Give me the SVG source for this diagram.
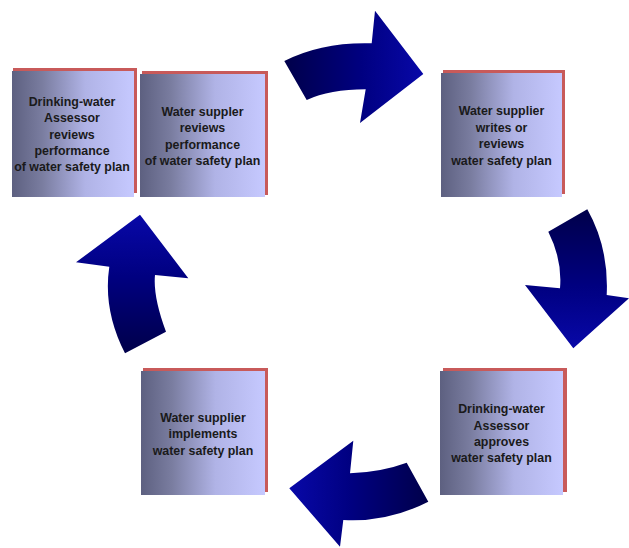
<svg xmlns="http://www.w3.org/2000/svg" width="629" height="548" viewBox="0 0 629 548">
<defs>
<linearGradient id="boxg" x1="0" y1="0" x2="1" y2="0">
<stop offset="0" stop-color="#5d6080"/>
<stop offset="0.25" stop-color="#7a7da0"/>
<stop offset="0.6" stop-color="#b0b3e6"/>
<stop offset="1" stop-color="#c6c9ff"/>
</linearGradient>
<linearGradient id="arrR" x1="0" y1="0" x2="1" y2="0">
<stop offset="0" stop-color="#00004a"/>
<stop offset="0.55" stop-color="#000080"/>
<stop offset="1" stop-color="#0808a8"/>
</linearGradient>
<linearGradient id="arrD" x1="0" y1="0" x2="0" y2="1">
<stop offset="0" stop-color="#00004a"/>
<stop offset="0.55" stop-color="#000080"/>
<stop offset="1" stop-color="#0808a8"/>
</linearGradient>
<linearGradient id="arrL" x1="1" y1="0" x2="0" y2="0">
<stop offset="0" stop-color="#00004a"/>
<stop offset="0.55" stop-color="#000080"/>
<stop offset="1" stop-color="#0808a8"/>
</linearGradient>
<linearGradient id="arrU" x1="0" y1="1" x2="0" y2="0">
<stop offset="0" stop-color="#00004a"/>
<stop offset="0.55" stop-color="#000080"/>
<stop offset="1" stop-color="#0808a8"/>
</linearGradient>
</defs>
<style>
.sh{fill:#c85a5a}
.bx{fill:url(#boxg)}
.t{font-family:"Liberation Sans",Arial,sans-serif;font-weight:bold;font-size:12.4px;fill:#1a1a1a;text-anchor:middle}
</style>
<rect width="629" height="548" fill="#ffffff"/>
<g id="connectors">
<path id="arrow-top" fill="url(#arrR)" d="M284.3,61 Q322,41.8 371.7,43.3 L375,10.7 L423.3,74 L360,123 L365.7,89.3 Q329.8,89.35 306.7,100 Z"/>
<path id="arrow-right" fill="url(#arrD)" d="M548.3,231.7 L587.3,209.3 Q609,247.85 606.7,295 L629,298.3 L573.3,348.3 L525,285 L560,288.3 Q562.5,260 548.3,231.7 Z"/>
<path id="arrow-bottom" fill="url(#arrL)" d="M406.7,462.7 L428.3,501.7 Q387.6,522.55 343.3,520 L340,546.7 L289.3,488.3 L353.3,440.7 L350,473.3 Q381.65,472 406.7,462.7 Z"/>
<path id="arrow-left" fill="url(#arrU)" d="M125,353.3 L166,331.7 Q152.9,296.65 155,275 L188.3,278.3 L140,214.7 L76,262.3 L109.3,266.7 Q102.85,310 125,353.3 Z"/>
</g>
<g id="node-assessor-reviews">
<rect class="sh" x="13" y="68" width="124" height="125"/>
<rect class="bx" x="12" y="71" width="122" height="126"/>
<text class="t" x="72" y="105.5">Drinking-water</text>
<text class="t" x="72" y="122">Assessor</text>
<text class="t" x="72" y="138.5">reviews</text>
<text class="t" x="72" y="155">performance</text>
<text class="t" x="72" y="171">of water safety plan</text>
</g>
<g id="node-supplier-reviews">
<rect class="sh" x="142" y="71" width="126" height="124"/>
<rect class="bx" x="140" y="74" width="125" height="123"/>
<text class="t" x="202.5" y="115.5">Water suppler</text>
<text class="t" x="202.5" y="132">reviews</text>
<text class="t" x="202.5" y="148.5">performance</text>
<text class="t" x="202.5" y="165">of water safety plan</text>
</g>
<g id="node-supplier-writes">
<rect class="sh" x="443" y="70" width="122" height="124"/>
<rect class="bx" x="441" y="73" width="121" height="124"/>
<text class="t" x="501.5" y="115">Water supplier</text>
<text class="t" x="501.5" y="131.5">writes or</text>
<text class="t" x="501.5" y="148">reviews</text>
<text class="t" x="501.5" y="164.5">water safety plan</text>
</g>
<g id="node-assessor-approves">
<rect class="sh" x="443" y="368" width="124" height="124"/>
<rect class="bx" x="440" y="371" width="123" height="124"/>
<text class="t" x="501.5" y="413">Drinking-water</text>
<text class="t" x="501.5" y="429.5">Assessor</text>
<text class="t" x="501.5" y="446">approves</text>
<text class="t" x="501.5" y="462">water safety plan</text>
</g>
<g id="node-supplier-implements">
<rect class="sh" x="143" y="368" width="125" height="124"/>
<rect class="bx" x="141" y="371" width="124" height="124"/>
<text class="t" x="203" y="421.5">Water supplier</text>
<text class="t" x="203" y="438">implements</text>
<text class="t" x="203" y="454.5">water safety plan</text>
</g>
</svg>
